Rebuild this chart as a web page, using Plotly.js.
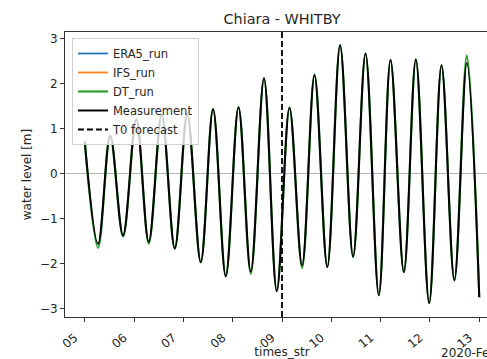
<!DOCTYPE html>
<html>
<head>
<meta charset="utf-8">
<script src="https://cdn.plot.ly/plotly-3.0.1.min.js"></script>
<style>
html,body{margin:0;padding:0;overflow:hidden;background:#fff;}
#chart{width:510px;height:359px;}
</style>
</head>
<body>
<div id="chart"></div>
<script>
// Times of the tide turning points (start, troughs/peaks alternating, end)
var times = [
  '2020-02-05 00:00','2020-02-05 06:29','2020-02-05 12:24','2020-02-05 18:39',
  '2020-02-06 01:05','2020-02-06 07:09','2020-02-06 13:29','2020-02-06 19:49',
  '2020-02-07 01:54','2020-02-07 08:28','2020-02-07 14:27','2020-02-07 20:38',
  '2020-02-08 02:50','2020-02-08 08:48','2020-02-08 15:14','2020-02-08 21:27',
  '2020-02-09 03:39','2020-02-09 09:47','2020-02-09 15:49','2020-02-09 22:03',
  '2020-02-10 04:16','2020-02-10 10:36','2020-02-10 16:39','2020-02-10 23:07',
  '2020-02-11 04:49','2020-02-11 11:18','2020-02-11 17:08','2020-02-11 23:37',
  '2020-02-12 05:38','2020-02-12 11:53','2020-02-12 17:57','2020-02-13 00:00'
];
var measurement = [
  0.72,-1.57,0.84,-1.38,
  1.20,-1.52,1.30,-1.66,
  1.32,-1.97,1.43,-2.29,
  1.47,-2.18,2.12,-2.62,
  1.46,-2.04,2.18,-2.08,
  2.85,-1.85,2.66,-2.71,
  2.52,-2.19,2.53,-2.88,
  2.40,-2.37,2.45,-2.75
];
var dtRun = [
  0.70,-1.65,0.84,-1.40,
  1.20,-1.56,1.30,-1.68,
  1.32,-1.98,1.43,-2.27,
  1.47,-2.23,2.10,-2.60,
  1.46,-2.10,2.20,-2.08,
  2.84,-1.86,2.66,-2.70,
  2.52,-2.20,2.53,-2.88,
  2.40,-2.38,2.62,-2.75
];
var t0Forecast = '2020-02-09 00:00';
var yTicks = [-3,-2,-1,0,1,2,3];
var yTickLabels = ['−3','−2','−1','0','1','2','3'];
var xTickDates = ['2020-02-05','2020-02-06','2020-02-07','2020-02-08','2020-02-09',
                  '2020-02-10','2020-02-11','2020-02-12','2020-02-13'];
var xTickLabels = ['05','06','07','08','09','10','11','12','13'];

var yRange = [-3.19, 3.14];
var xRange = ['2020-02-04 14:24', '2020-02-13 09:36'];
var font = 'DejaVu Sans, sans-serif';
var txt = '#262626';

var traces = [
  {x:[null], y:[null], name:'ERA5_run', mode:'lines', line:{color:'#1f77b4', width:1.8}},
  {x:[null], y:[null], name:'IFS_run', mode:'lines', line:{color:'#ff7f0e', width:1.8}},
  {x:times, y:dtRun, name:'DT_run', mode:'lines', line:{color:'#2ca02c', width:2.2, shape:'spline', smoothing:1}},
  {x:times, y:measurement, name:'Measurement', mode:'lines', line:{color:'#000000', width:2, shape:'spline', smoothing:1}},
  {x:[t0Forecast, t0Forecast], y:yRange, name:'T0 forecast', mode:'lines', line:{color:'#000000', width:1.8, dash:'6px,3px'}}
];

var layout = {
  width:510, height:359,
  margin:{l:65, r:11, t:32, b:42},
  paper_bgcolor:'#fff', plot_bgcolor:'#fff',
  font:{family:font, size:12, color:txt},
  title:{text:'Chiara - WHITBY', x:0.5, xref:'paper', xanchor:'center', y:1, yref:'container', yanchor:'top', pad:{t:14}, font:{family:font, size:14.4, color:txt}},
  showlegend:true,
  legend:{x:0.016, y:0.979, xanchor:'left', yanchor:'top', bgcolor:'rgba(255,255,255,0.8)', bordercolor:'#d0d0d0', borderwidth:1, font:{family:font, size:11.5, color:txt}, itemwidth:30, tracegroupgap:0},
  xaxis:{
    type:'date', range:xRange, tickmode:'array', tickvals:xTickDates, ticktext:xTickLabels,
    tickangle:-40, ticks:'outside', ticklen:4, tickcolor:'#333', showgrid:false, zeroline:false,
    ticklabelshift:-10, ticklabelstandoff:4,
    showline:true, mirror:true, linecolor:'#333', linewidth:1,
    tickfont:{family:font, size:12, color:txt},
    title:{text:'times_str', standoff:2, font:{family:font, size:12, color:txt}}
  },
  yaxis:{
    range:yRange, tickmode:'array', tickvals:yTicks, ticktext:yTickLabels,
    ticks:'outside', ticklen:4, tickcolor:'#333', showgrid:false,
    zeroline:true, zerolinecolor:'#b5b5b5', zerolinewidth:1.2,
    showline:true, mirror:true, linecolor:'#333', linewidth:1,
    tickfont:{family:font, size:12, color:txt},
    title:{text:'water level [m]', standoff:5, font:{family:font, size:12, color:txt}}
  },
  annotations:[
    {text:'2020-Feb', xref:'paper', yref:'paper', x:1, y:-0.126, xanchor:'right', yanchor:'middle', showarrow:false, font:{family:font, size:12, color:txt}}
  ]
};

Plotly.newPlot('chart', traces, layout, {displayModeBar:false, staticPlot:true});
</script>
</body>
</html>
